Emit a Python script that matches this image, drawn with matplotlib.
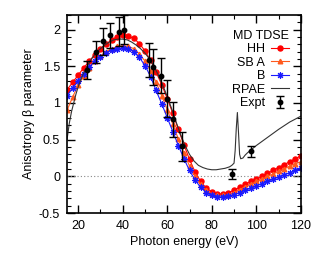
import numpy as np
import matplotlib
matplotlib.use("Agg")
import matplotlib.pyplot as plt
from matplotlib.ticker import MultipleLocator

plt.rcParams['font.family'] = ['Liberation Sans', 'DejaVu Sans']
plt.rcParams['font.size'] = 9

# photon energies of the TDSE calculations (eV)
e_tdse = [15, 17.5, 20, 22.5, 25, 27.5, 30, 32.5, 35, 37.5, 40, 42.5, 45, 47.5,
          50, 52.5, 55, 57.5, 60, 62.5, 65, 67.5, 70, 72.5, 75, 77.5, 80, 82.5,
          85, 87.5, 90, 92.5, 95, 97.5, 100, 102.5, 105, 107.5, 110, 112.5,
          115, 117.5, 120]

hh = [1.18, 1.28, 1.38, 1.48, 1.57, 1.66, 1.74, 1.80, 1.86, 1.90, 1.92, 1.91,
      1.88, 1.81, 1.71, 1.58, 1.42, 1.25, 1.06, 0.86, 0.64, 0.43, 0.23, 0.06,
      -0.07, -0.16, -0.21, -0.24, -0.24, -0.22, -0.19, -0.15, -0.11, -0.07,
      -0.04, 0.00, 0.04, 0.08, 0.12, 0.16, 0.20, 0.24, 0.28]

sb_a = [0.90, 1.08, 1.24, 1.37, 1.48, 1.57, 1.64, 1.70, 1.74, 1.77, 1.78, 1.77,
        1.74, 1.67, 1.57, 1.44, 1.28, 1.10, 0.91, 0.71, 0.51, 0.32, 0.14, 0.00,
        -0.11, -0.19, -0.24, -0.26, -0.26, -0.25, -0.22, -0.18, -0.14, -0.11,
        -0.07, -0.04, 0.00, 0.03, 0.07, 0.10, 0.14, 0.17, 0.20]

sb_b = [1.10, 1.20, 1.30, 1.40, 1.49, 1.57, 1.63, 1.68, 1.72, 1.74, 1.75, 1.74,
        1.70, 1.62, 1.51, 1.36, 1.17, 0.99, 0.80, 0.61, 0.42, 0.24, 0.08, -0.05,
        -0.15, -0.22, -0.26, -0.28, -0.28, -0.27, -0.25, -0.22, -0.19, -0.16,
        -0.13, -0.10, -0.07, -0.04, -0.01, 0.02, 0.05, 0.08, 0.11]

# RPAE curve
e_rpae = [15, 16, 17, 18, 19, 20, 22, 24, 26, 28, 30, 32, 34, 36, 38, 40, 42,
          44, 46, 48, 50, 52, 54, 56, 58, 60, 62, 64, 66, 68, 70, 72, 74, 76,
          78, 80, 82, 84, 86, 88, 89, 90, 90.5, 91, 91.5, 92, 92.5, 93, 94, 95,
          96, 98, 100, 105, 110, 115, 120]
rpae = [0.50, 0.72, 0.88, 1.00, 1.12, 1.22, 1.38, 1.50, 1.60, 1.68, 1.74, 1.79,
        1.83, 1.86, 1.87, 1.87, 1.86, 1.83, 1.79, 1.74, 1.68, 1.60, 1.50, 1.38,
        1.24, 1.09, 0.92, 0.74, 0.57, 0.42, 0.30, 0.21, 0.15, 0.12, 0.10, 0.09,
        0.09, 0.10, 0.11, 0.13, 0.15, 0.18, 0.35, 0.65, 0.87, 0.60, 0.30, 0.24,
        0.25, 0.29, 0.32, 0.37, 0.42, 0.53, 0.64, 0.74, 0.82]

# experiment
e_exp = [24, 28, 31, 34.5, 38.5, 40.5, 52, 53.5, 57, 60, 62.5, 66.5, 89, 97.5]
b_exp = [1.45, 1.70, 1.84, 1.92, 1.97, 2.00, 1.59, 1.49, 1.37, 1.06, 0.78,
         0.41, 0.03, 0.34]
err_exp = [0.12, 0.15, 0.18, 0.17, 0.2, 0.2, 0.23, 0.24, 0.24, 0.25, 0.24,
           0.2, 0.07, 0.08]

fig = plt.figure(figsize=(3.27, 2.57), dpi=100)
ax = fig.add_axes([0.205, 0.171, 0.715, 0.771])

ax.axhline(0, color='#888888', lw=0.8, ls=(0, (1, 2)))

ax.plot(e_tdse, hh, color='#ff0000', lw=0.8, marker='o', ms=3.6,
        mec='#ff0000', label='HH')
ax.plot(e_tdse, sb_a, color='#ff5a1e', lw=0.8, marker='^', ms=3.3,
        label='SB A')
ax.plot(e_tdse, sb_b, color='#1a1aff', lw=0.8, marker=(8, 2, 0), ms=4.8,
        mew=0.8, label='B')
ax.plot(e_rpae, rpae, color='#333333', lw=0.8, label='RPAE')
ax.errorbar(e_exp, b_exp, yerr=err_exp, fmt='o', color='black', ms=3.2,
            elinewidth=1.0, capsize=3, capthick=1.0, label='Expt')

ax.set_xlim(15, 120)
ax.set_ylim(-0.5, 2.2)
ax.xaxis.set_major_locator(MultipleLocator(20))
ax.xaxis.set_minor_locator(MultipleLocator(10))
ax.yaxis.set_major_locator(MultipleLocator(0.5))
ax.yaxis.set_minor_locator(MultipleLocator(0.1))
ax.set_yticks([-0.5, 0, 0.5, 1, 1.5, 2])
ax.set_yticklabels(['-0.5', '0', '0.5', '1', '1.5', '2'])
ax.tick_params(which='both', direction='in', top=True, right=True)
ax.tick_params(which='major', length=5.5, width=1.0, pad=5)
ax.tick_params(which='minor', length=3, width=0.8)
for s in ax.spines.values():
    s.set_linewidth(1.2)

ax.set_xlabel('Photon energy (eV)', labelpad=3)
ax.set_ylabel('Anisotropy β parameter', labelpad=3)

leg = ax.legend(loc='upper right', bbox_to_anchor=(0.97, 0.95),
                title='MD TDSE', markerfirst=False, frameon=False,
                handlelength=1.4, handletextpad=0.5, labelspacing=0.12,
                alignment='right', borderaxespad=0, fontsize=9,
                title_fontsize=9)

fig.savefig('out.png', dpi=100)
